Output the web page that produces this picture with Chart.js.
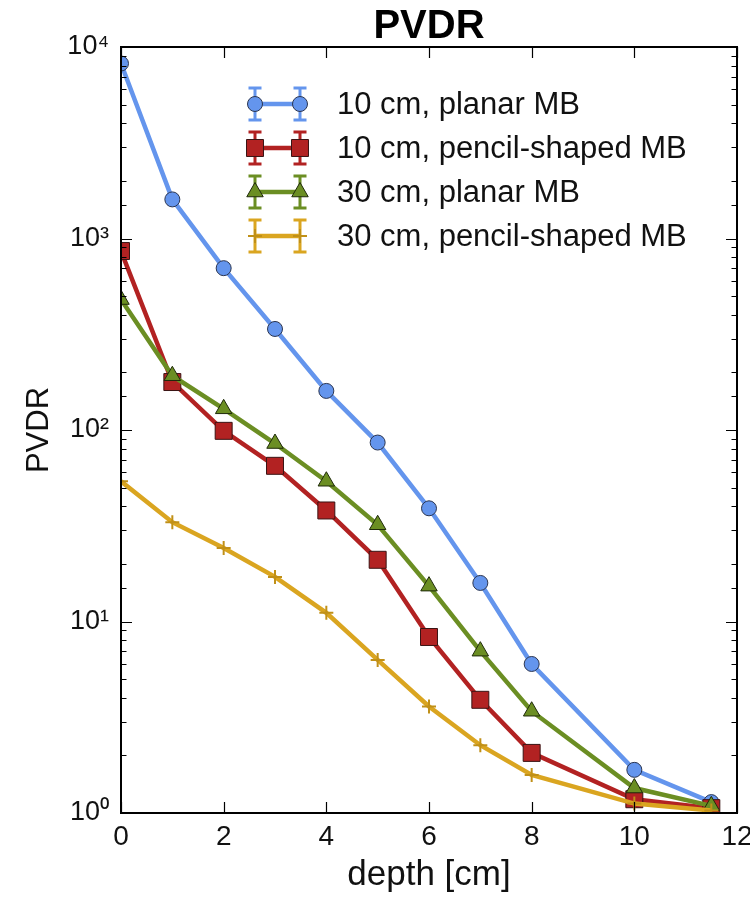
<!DOCTYPE html>
<html>
<head>
<meta charset="utf-8">
<script src="https://cdn.jsdelivr.net/npm/chart.js@4/dist/chart.umd.min.js"></script>
<style>
  html, body { margin: 0; padding: 0; background: #fff; }
  #wrap { width: 750px; height: 901px; }
</style>
</head>
<body>
<div id="wrap"><canvas id="c" width="750" height="901"></canvas></div>
<script>
// ---- data ----
const depth = [0, 1, 2, 3, 4, 5, 6, 7, 8, 10, 11.5];
const planar10 = [8200, 1600, 700, 337, 160, 86, 39, 15.9, 6.0, 1.68, 1.14];
const pencil10 = [860, 178, 99, 65, 38, 21, 8.3, 3.9, 2.06, 1.18, 1.06];
const planar30 = [480, 192, 129, 85, 54, 32, 15.3, 7.0, 3.4, 1.35, 1.09];
const pencil30 = [54, 33, 24.2, 17.1, 11.1, 6.3, 3.6, 2.26, 1.58, 1.12, 1.03];
const seriesLabels = ['10 cm, planar MB', '10 cm, pencil-shaped MB', '30 cm, planar MB', '30 cm, pencil-shaped MB'];
const xTickValues = [0, 2, 4, 6, 8, 10, 12];
const yDecades = [1, 10, 100, 1000, 10000];

const FONT = '"Liberation Sans", Arial, Helvetica, sans-serif';
const SUP = {'0':'\u2070','1':'\u00b9','2':'\u00b2','3':'\u00b3','4':'\u2074','5':'\u2075','6':'\u2076','7':'\u2077','8':'\u2078','9':'\u2079'};

function pts(ys) { return depth.map((x, i) => ({x: x, y: ys[i]})); }

const styles = [
  {color: '#6495ed', pointStyle: 'circle', radius: 7.5, border: '#2b3550', bw: 1},
  {color: '#b22222', pointStyle: 'rect', radius: 12, border: '#3a1414', bw: 1},
  {color: '#6b8e23', pointStyle: 'triangle', radius: 9.5, border: '#1f2a0a', bw: 1},
  {color: '#daa520', pointStyle: 'cross', radius: 7, border: '#c09018', bw: 2}
];
const seriesData = [planar10, pencil10, planar30, pencil30];

const datasets = seriesData.map((d, i) => ({
  label: seriesLabels[i],
  data: pts(d),
  borderColor: styles[i].color,
  backgroundColor: styles[i].color,
  borderWidth: 4.5,
  pointStyle: styles[i].pointStyle,
  pointRadius: styles[i].radius,
  pointHoverRadius: styles[i].radius,
  pointBackgroundColor: styles[i].color,
  pointBorderColor: styles[i].border,
  pointBorderWidth: styles[i].bw,
  tension: 0,
  order: 4 - i
}));

// inward ticks + frame (matplotlib classic look)
const framePlugin = {
  id: 'frame',
  afterDraw(chart) {
    const {ctx, chartArea: a, scales} = chart;
    const xs = scales.x, ys = scales.y;
    ctx.save();
    ctx.strokeStyle = '#000';
    ctx.lineWidth = 1.2;
    xs.ticks.forEach(t => {
      const px = Math.round(xs.getPixelForValue(t.value)) + 0.5;
      ctx.beginPath();
      ctx.moveTo(px, a.bottom); ctx.lineTo(px, a.bottom - 11);
      ctx.moveTo(px, a.top); ctx.lineTo(px, a.top + 11);
      ctx.stroke();
    });
    ys.ticks.forEach(t => {
      const v = t.value;
      const lg = Math.log10(v);
      const major = Math.abs(lg - Math.round(lg)) < 1e-9;
      const len = major ? 11 : 5.5;
      const py = Math.round(ys.getPixelForValue(v)) + 0.5;
      ctx.beginPath();
      ctx.moveTo(a.left, py); ctx.lineTo(a.left + len, py);
      ctx.moveTo(a.right, py); ctx.lineTo(a.right - len, py);
      ctx.stroke();
    });
    ctx.lineWidth = 2;
    ctx.strokeRect(a.left, a.top, a.right - a.left, a.bottom - a.top);
    ctx.restore();
  }
};

// error-bar style legend
const legendPlugin = {
  id: 'ebLegend',
  afterDraw(chart) {
    const ctx = chart.ctx;
    const x1 = 255, x2 = 300, textX = 337, y0 = 104, dy = 44, h = 16, cap = 6.5;
    ctx.save();
    chart.data.datasets.forEach((ds, i) => {
      const y = y0 + dy * i;
      const st = styles[i];
      ctx.strokeStyle = st.color;
      ctx.lineCap = 'butt';
      ctx.lineWidth = 3;
      [x1, x2].forEach(x => {
        ctx.beginPath();
        ctx.moveTo(x, y - h); ctx.lineTo(x, y + h);
        ctx.moveTo(x - cap, y - h); ctx.lineTo(x + cap, y - h);
        ctx.moveTo(x - cap, y + h); ctx.lineTo(x + cap, y + h);
        ctx.stroke();
      });
      ctx.lineWidth = 4.5;
      ctx.beginPath();
      ctx.moveTo(x1, y); ctx.lineTo(x2, y);
      ctx.stroke();
      [x1, x2].forEach(x => {
        ctx.fillStyle = st.color;
        ctx.strokeStyle = st.border;
        ctx.lineWidth = st.bw;
        Chart.helpers.drawPoint(ctx, {pointStyle: st.pointStyle, radius: st.radius, rotation: 0, borderWidth: st.bw}, x, y);
      });
      ctx.fillStyle = '#111';
      ctx.font = '31px ' + FONT;
      ctx.textAlign = 'left';
      ctx.textBaseline = 'middle';
      ctx.fillText(ds.label, textX, y + 1);
    });
    ctx.restore();
  }
};

new Chart(document.getElementById('c'), {
  type: 'line',
  data: {datasets: datasets},
  plugins: [framePlugin, legendPlugin],
  options: {
    responsive: false,
    animation: false,
    devicePixelRatio: 1,
    layout: {padding: {left: 0, right: 13, top: 0, bottom: 0}},
    plugins: {
      legend: {display: false},
      tooltip: {enabled: false},
      title: {
        display: true,
        fullSize: false,
        text: 'PVDR',
        color: '#000',
        font: {family: FONT, size: 40, weight: 'bold', lineHeight: 1},
        padding: {top: 7, bottom: 0}
      }
    },
    scales: {
      x: {
        type: 'linear',
        min: 0, max: 12,
        afterBuildTicks(scale) { scale.ticks = xTickValues.map(v => ({value: v})); },
        afterFit(scale) { scale.height = 88; scale.paddingLeft = 0; scale.paddingRight = 0; },
        grid: {display: false, drawTicks: false},
        border: {display: false},
        ticks: {
          font: {family: FONT, size: 28},
          color: '#111',
          padding: 7,
          maxRotation: 0,
          autoSkip: false
        },
        title: {
          display: true,
          text: 'depth [cm]',
          color: '#111',
          font: {family: FONT, size: 35, lineHeight: 1.2},
          padding: {top: 0, bottom: 5}
        }
      },
      y: {
        type: 'logarithmic',
        min: 1, max: 10000,
        afterFit(scale) { scale.width = 121; scale.paddingTop = 0; scale.paddingBottom = 0; },
        grid: {display: false, drawTicks: false},
        border: {display: false},
        ticks: {
          font: {family: FONT, size: 27},
          color: '#111',
          padding: 12,
          autoSkip: false,
          callback(value) {
            if (yDecades.indexOf(value) === -1) return '';
            const e = String(Math.round(Math.log10(value)));
            return '10' + e.split('').map(c => SUP[c]).join('');
          }
        },
        title: {
          display: true,
          text: 'PVDR',
          color: '#111',
          font: {family: FONT, size: 31, lineHeight: 1.2},
          padding: {top: 21, bottom: 0}
        }
      }
    }
  }
});
</script>
</body>
</html>
